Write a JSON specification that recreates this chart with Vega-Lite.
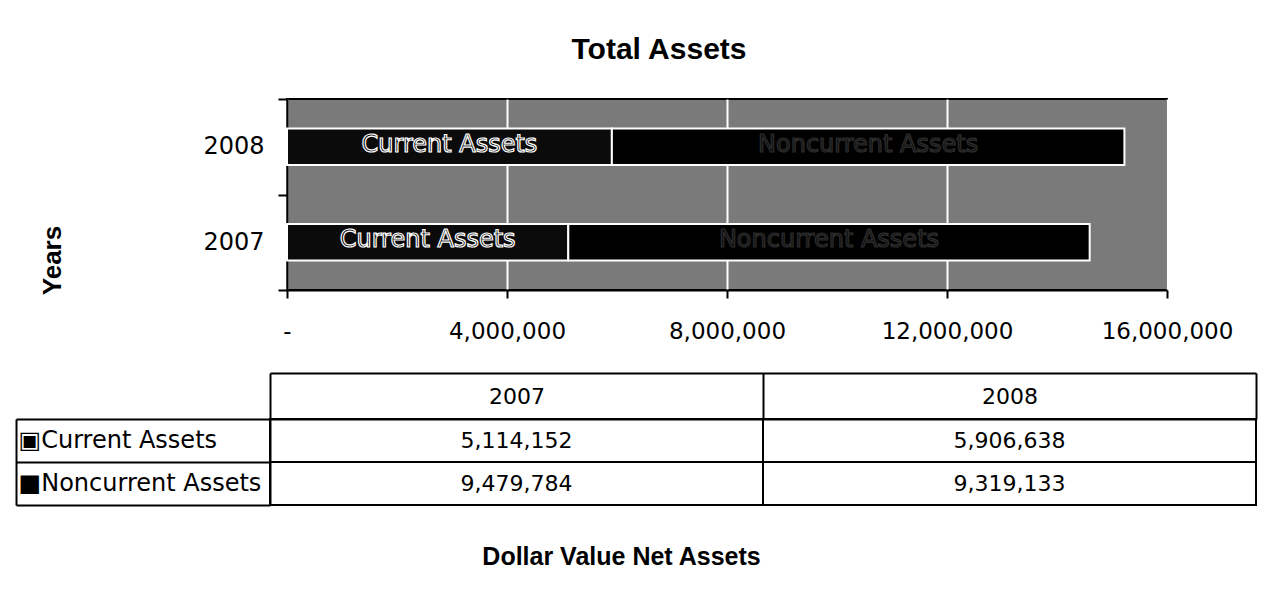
{
  "$schema": "https://vega.github.io/schema/vega-lite/v6.json",
  "background": "white",
  "padding": {"left": 15, "top": 35, "right": 5, "bottom": 5},
  "title": {"text": "Total Assets", "font": "Liberation Sans", "fontSize": 30, "fontWeight": "bold", "color": "black", "anchor": "middle", "offset": 21, "dx": 15},
  "data": {"values": [
    {"Year": "2007", "Series": "Current Assets", "Value": 5114152},
    {"Year": "2007", "Series": "Noncurrent Assets", "Value": 9479784},
    {"Year": "2008", "Series": "Current Assets", "Value": 5906638},
    {"Year": "2008", "Series": "Noncurrent Assets", "Value": 9319133}
  ]},
  "bounds": "flush",
  "spacing": 129,
  "vconcat": [
    {
      "width": 880,
      "height": 191,
      "view": {"fill": "#7a7a7a", "stroke": "black", "strokeWidth": 2},
      "encoding": {
        "y": {"field": "Year", "type": "nominal", "sort": "descending",
          "scale": {"paddingInner": 0, "paddingOuter": 0},
          "axis": {"title": "Years", "titleFont": "Liberation Sans", "titleFontSize": 26, "titleFontWeight": "bold", "titleColor": "black",
            "titleAngle": 270, "titleX": -235, "titleY": 161, "titleAlign": "center", "titleBaseline": "middle",
            "labelFont": "DejaVu Sans", "labelFontSize": 24, "labelColor": "black", "labelPadding": 14,
            "tickBand": "extent", "tickSize": 9, "tickWidth": 2, "tickColor": "black",
            "domainColor": "black", "domainWidth": 2, "grid": false}},
        "x": {"field": "Value", "type": "quantitative", "stack": "zero",
          "scale": {"domain": [0, 16000000], "nice": false},
          "axis": {"values": [0, 4000000, 8000000, 12000000, 16000000],
            "labelExpr": "datum.value == 0 ? '-' : format(datum.value, ',')",
            "labelFont": "DejaVu Sans", "labelFontSize": 23, "labelColor": "black", "labelPadding": 22,
            "labelFlush": false, "labelOverlap": false,
            "tickSize": 8, "tickWidth": 2, "tickColor": "black",
            "domainColor": "black", "domainWidth": 2,
            "grid": true, "gridColor": "white", "gridWidth": 2, "gridOpacity": 1,
            "title": "Dollar Value Net Assets", "titleFont": "Liberation Sans", "titleFontSize": 25, "titleFontWeight": "bold", "titleColor": "black",
            "titleX": 334, "titleY": 266, "titleAlign": "center", "titleBaseline": "middle"}}
      },
      "layer": [
        {"mark": {"type": "bar", "stroke": "white", "strokeWidth": 2, "height": {"band": 0.38}},
          "encoding": {"color": {"field": "Series", "type": "nominal",
            "scale": {"domain": ["Current Assets", "Noncurrent Assets"], "range": ["#0b0b0b", "#000000"]}, "legend": null}}},
        {"mark": {"type": "text", "font": "DejaVu Sans", "fontSize": 24, "strokeWidth": 1.2, "baseline": "middle", "align": "center", "dy": -2},
          "encoding": {
            "x": {"field": "Value", "type": "quantitative", "stack": "zero", "bandPosition": 0.5},
            "detail": {"field": "Series"},
            "text": {"field": "Series"},
            "fill": {"condition": {"test": "datum.Series == 'Current Assets'", "value": "black"}, "value": "#0d0d0d"},
            "stroke": {"condition": {"test": "datum.Series == 'Current Assets'", "value": "white"}, "value": "#2e2e2e"}}}
      ]
    },
    {
      "width": 969,
      "height": 86,
      "view": {"stroke": null},
      "layer": [
        {"mark": {"type": "rect", "fill": "white", "stroke": "black", "strokeWidth": 2},
          "encoding": {
            "x": {"field": "Year", "type": "nominal",
              "scale": {"range": [-17, 969], "paddingInner": 0, "paddingOuter": 0},
              "axis": {"orient": "top", "title": null, "labelFont": "DejaVu Sans", "labelFontSize": 22, "labelColor": "black",
                "labelAngle": 0, "labelBaseline": "middle", "labelPadding": -23,
                "labelExpr": "datum.value == null ? '' : datum.label",
                "tickBand": "extent", "tickSize": 46, "tickWidth": 2, "tickColor": "black",
                "domainColor": "black", "domainWidth": 2}},
            "y": {"field": "Series", "type": "nominal",
              "scale": {"paddingInner": 0, "paddingOuter": 0},
              "axis": {"orient": "left", "offset": 17, "title": null, "labelFont": "DejaVu Sans", "labelFontSize": 24, "labelColor": "black",
                "labelAlign": "left", "labelBaseline": "middle", "labelPadding": -2, "labelLimit": 0,
                "labelExpr": "datum.value == 'Current Assets' ? '▣Current Assets' : (datum.value == 'Noncurrent Assets' ? '■Noncurrent Assets' : '')",
                "tickBand": "extent", "tickSize": 254, "tickWidth": 2, "tickColor": "black",
                "domainColor": "black", "domainWidth": 2}}
          }},
        {"mark": {"type": "text", "font": "DejaVu Sans", "fontSize": 22, "color": "black", "baseline": "middle", "align": "center"},
          "encoding": {
            "text": {"field": "Value", "type": "quantitative", "format": ","},
            "x": {"field": "Year", "type": "nominal",
              "axis": {"orient": "top", "offset": 46, "labels": false, "ticks": false, "title": null, "domainColor": "black", "domainWidth": 2}},
            "y": {"field": "Series", "type": "nominal",
              "axis": {"orient": "left", "offset": 271, "labels": false, "ticks": false, "title": null, "domainColor": "black", "domainWidth": 2}}
          }}
      ],
      "resolve": {"axis": {"x": "independent", "y": "independent"}}
    }
  ],
  "config": {"view": {"stroke": null}}
}
